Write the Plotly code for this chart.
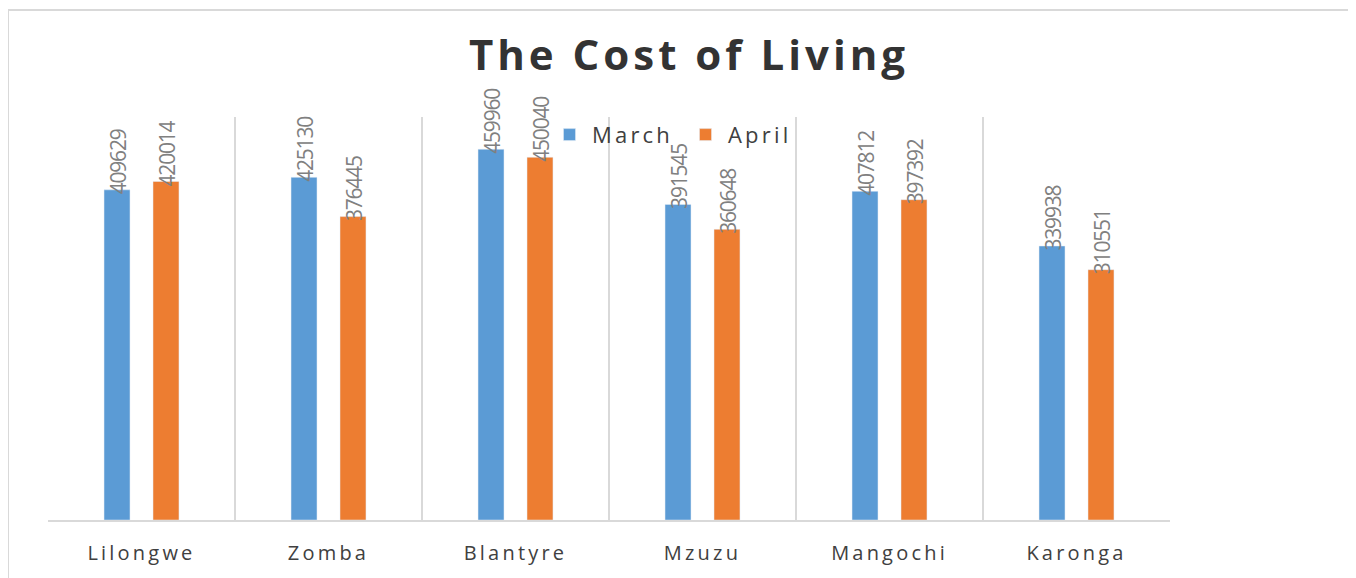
import plotly.graph_objects as go

cities = ["Lilongwe", "Zomba", "Blantyre", "Mzuzu", "Mangochi", "Karonga"]
march = [409629, 425130, 459960, 391545, 407812, 339938]
april = [420014, 376445, 450040, 360648, 397392, 310551]

OFF = 8  # page body margin
W, H = 1356 - OFF, 578 - OFF
L, R, T, B = 48 - OFF, 1170 - OFF, 117 - OFF, 524 - OFF


def spaced(s, px):
    return f'<span style="letter-spacing:{px}px">{s}</span>'


label_font = dict(family="Open Sans", size=21, color="#808080")

fig = go.Figure()
fig.add_trace(go.Bar(name=spaced("March", 3.2), x=cities, y=march, marker_color="#5B9BD5"))
fig.add_trace(go.Bar(name=spaced("April", 3.2), x=cities, y=april, marker_color="#ED7D31"))

# value labels, rotated, sitting on top of each bar (slightly overlapping it)
for series, shift in ((march, -24.5), (april, 24.5)):
    for c, v in zip(cities, series):
        fig.add_annotation(x=c, y=v, xref="x", yref="y", text=spaced(v, -1.2),
                           textangle=-90, showarrow=False, xanchor="center", yanchor="bottom",
                           xshift=shift + 1, yshift=-7, font=label_font)

fig.update_layout(
    width=W, height=H,
    margin=dict(l=L, r=W - R, t=T, b=H - B, pad=0),
    paper_bgcolor="white", plot_bgcolor="white",
    barmode="group", bargap=0.476, bargroupgap=0.47,
    title=dict(text="<b>" + spaced("The Cost of Living", 4) + "</b>", x=(689 - OFF) / W,
               xref="container", xanchor="center",
               y=1 - (55 - OFF) / H, yref="container", yanchor="middle",
               font=dict(family="Open Sans", size=42, color="#333333")),
    legend=dict(orientation="h", x=(547 - 48) / (1170 - 48), xanchor="left",
                y=(524 - 135) / (524 - 117), yanchor="middle",
                font=dict(family="Open Sans", size=22, color="#404040"),
                bgcolor="rgba(0,0,0,0)", itemwidth=35, traceorder="normal",
                entrywidth=86, entrywidthmode="pixels"),
    xaxis=dict(type="category", tickson="boundaries", showgrid=True, gridcolor="#d9d9d9",
               gridwidth=2, showline=True, linecolor="#d9d9d9", linewidth=2,
               ticks="", ticklabelstandoff=14,
               tickvals=cities, ticktext=[spaced(c, 3.2) for c in cities],
               tickfont=dict(family="Open Sans", size=20, color="#404040"),
               range=[-0.5, 5.5]),
    yaxis=dict(range=[0, 500000], showgrid=False, showticklabels=False, zeroline=False,
               showline=False),
    showlegend=True,
)

# outer frame lines
fx = (8 - 48) / (1170 - 48)
fy = (524 - 9) / (524 - 117)
fig.add_shape(type="line", xref="paper", yref="paper",
              x0=fx, x1=(1360 - 48) / (1170 - 48), y0=fy, y1=fy,
              line=dict(color="#d9d9d9", width=2))
fig.add_shape(type="line", xref="paper", yref="paper",
              x0=fx, x1=fx, y0=fy, y1=(524 - 585) / (524 - 117),
              line=dict(color="#d9d9d9", width=2))

fig.write_html("out.html")
